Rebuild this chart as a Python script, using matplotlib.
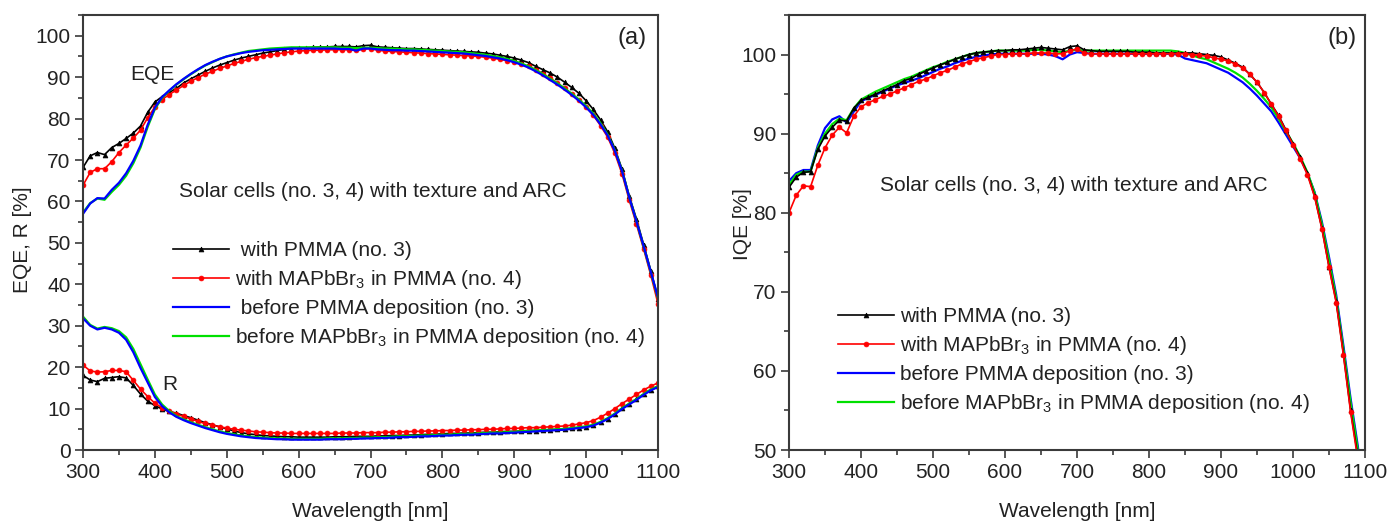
import numpy as np
import matplotlib
matplotlib.use('Agg')
import matplotlib.pyplot as plt
from matplotlib.ticker import MultipleLocator

plt.rcParams['font.family'] = ['Liberation Sans', 'DejaVu Sans']
plt.rcParams['mathtext.fontset'] = 'custom'
plt.rcParams['mathtext.rm'] = 'Liberation Sans'
plt.rcParams['mathtext.default'] = 'regular'

# longitud de onda, paso de 10 nm
wl = np.arange(300, 1101, 10)

# ---- (a) EQE ----
eqe_pmma = [68.2, 71.0, 71.8, 71.3, 73.0, 74.0, 75.2, 76.5, 78.2, 81.5,
            84.0, 85.3, 86.3, 87.3, 88.6, 89.6, 90.5, 91.4, 92.2, 92.9,
            93.5, 94.1, 94.6, 95.0, 95.4, 95.8, 96.1, 96.4, 96.7, 96.9,
            97.0, 97.1, 97.2, 97.3, 97.3, 97.4, 97.4, 97.4, 97.3, 97.6,
            97.7, 97.3, 97.2, 97.1, 97.0, 96.9, 96.9, 96.8, 96.7, 96.6,
            96.5, 96.4, 96.3, 96.2, 96.1, 96.0, 95.8, 95.6, 95.3, 95.0,
            94.6, 94.1, 93.5, 92.6, 91.8, 91.0, 90.0, 88.8, 87.5, 86.1,
            84.3, 82.2, 79.7, 76.8, 72.8, 67.8, 61.3, 55.8, 49.6, 43.3, 36.5]
eqe_mapb = [63.9, 67.0, 67.9, 67.9, 69.6, 71.8, 73.6, 75.3, 77.2, 80.2,
            82.8, 84.6, 85.8, 86.9, 88.0, 89.0, 89.9, 90.7, 91.4, 92.1,
            92.7, 93.3, 93.8, 94.3, 94.7, 95.0, 95.3, 95.6, 95.9, 96.1,
            96.3, 96.4, 96.5, 96.5, 96.6, 96.6, 96.6, 96.6, 96.5, 96.8,
            96.9, 96.5, 96.3, 96.2, 96.1, 96.0, 95.9, 95.8, 95.7, 95.6,
            95.5, 95.4, 95.3, 95.2, 95.1, 95.0, 94.8, 94.6, 94.3, 94.0,
            93.7, 93.2, 92.6, 91.8, 90.8, 89.7, 88.6, 87.3, 85.9, 84.5,
            82.8, 80.8, 78.3, 75.5, 71.6, 66.6, 60.3, 54.5, 48.5, 42.2, 35.3]
eqe_pre3 = [57.0, 59.5, 60.8, 60.7, 62.8, 64.5, 66.8, 69.8, 73.5, 78.5,
            82.6, 85.2, 86.8, 88.3, 89.6, 90.8, 91.9, 92.9, 93.7, 94.4,
            95.0, 95.4, 95.8, 96.1, 96.3, 96.5, 96.6, 96.7, 96.8, 96.9,
            96.9, 96.9, 96.9, 96.9, 96.9, 96.9, 96.8, 96.8, 96.4, 96.9,
            96.9, 96.7, 96.6, 96.5, 96.5, 96.4, 96.4, 96.3, 96.2, 96.1,
            96.0, 95.9, 95.8, 95.7, 95.5, 95.3, 95.1, 94.8, 94.5, 94.1,
            93.6, 93.0, 92.3, 91.4, 90.4, 89.3, 88.2, 87.0, 85.7, 84.3,
            82.7, 80.9, 78.6, 75.9, 72.2, 67.3, 61.0, 55.2, 49.2, 43.0, 36.8]
eqe_pre4 = [57.3, 59.6, 60.7, 60.4, 62.3, 64.0, 66.2, 69.2, 73.0, 78.0,
            82.3, 85.0, 86.7, 88.2, 89.5, 90.7, 91.8, 92.8, 93.6, 94.4,
            95.0, 95.5, 95.9, 96.3, 96.5, 96.7, 96.9, 97.0, 97.1, 97.2,
            97.2, 97.2, 97.2, 97.2, 97.2, 97.2, 97.1, 97.1, 97.0, 97.1,
            97.1, 97.0, 96.9, 96.9, 96.8, 96.7, 96.7, 96.6, 96.5, 96.4,
            96.3, 96.2, 96.1, 96.0, 95.8, 95.6, 95.4, 95.1, 94.8, 94.4,
            93.9, 93.3, 92.6, 91.7, 90.7, 89.6, 88.5, 87.3, 86.0, 84.6,
            83.0, 81.2, 78.9, 76.1, 72.3, 67.4, 61.0, 55.2, 49.1, 42.9, 36.6]

# ---- (a) R ----
r_pmma = [18.0, 16.9, 16.5, 17.3, 17.5, 17.7, 17.4, 15.6, 13.5, 11.8,
          10.7, 9.9, 9.3, 8.9, 8.3, 7.8, 7.2, 6.6, 6.1, 5.6,
          5.1, 4.6, 4.2, 3.9, 3.7, 3.5, 3.4, 3.3, 3.2, 3.2,
          3.1, 3.1, 3.1, 3.1, 3.1, 3.2, 3.2, 3.2, 3.3, 3.3,
          3.3, 3.4, 3.4, 3.5, 3.5, 3.6, 3.6, 3.7, 3.8, 3.8,
          3.9, 4.0, 4.0, 4.1, 4.1, 4.2, 4.3, 4.3, 4.4, 4.5,
          4.5, 4.6, 4.7, 4.7, 4.8, 4.9, 5.0, 5.1, 5.2, 5.4,
          5.6, 6.0, 6.7, 7.6, 8.7, 10.1, 11.2, 12.3, 13.5, 14.6, 15.4]
r_mapb = [20.5, 19.1, 18.8, 18.9, 19.2, 19.2, 18.9, 16.8, 14.7, 12.9,
          11.3, 10.2, 9.4, 8.7, 8.1, 7.5, 6.9, 6.4, 6.0, 5.6,
          5.3, 5.0, 4.8, 4.6, 4.4, 4.3, 4.2, 4.1, 4.1, 4.0,
          4.0, 4.0, 4.0, 4.0, 4.0, 4.0, 4.1, 4.1, 4.1, 4.2,
          4.2, 4.2, 4.3, 4.3, 4.4, 4.4, 4.5, 4.5, 4.6, 4.6,
          4.7, 4.7, 4.8, 4.8, 4.9, 4.9, 5.0, 5.0, 5.1, 5.2,
          5.2, 5.3, 5.4, 5.4, 5.5, 5.6, 5.7, 5.8, 6.0, 6.3,
          6.6, 7.1, 7.9, 8.9, 10.0, 11.2, 12.3, 13.4, 14.5, 15.4, 16.2]
r_pre3 = [31.8, 30.0, 29.1, 29.5, 29.1, 28.3, 26.6, 23.6, 19.8, 16.3,
          12.8, 10.6, 9.1, 8.0, 7.2, 6.5, 5.9, 5.3, 4.8, 4.3,
          3.9, 3.6, 3.3, 3.1, 2.9, 2.8, 2.7, 2.6, 2.6, 2.5,
          2.5, 2.5, 2.5, 2.5, 2.6, 2.6, 2.6, 2.7, 2.7, 2.8,
          2.8, 2.9, 2.9, 3.0, 3.1, 3.1, 3.2, 3.3, 3.3, 3.4,
          3.5, 3.5, 3.6, 3.7, 3.7, 3.8, 3.9, 4.0, 4.0, 4.1,
          4.2, 4.3, 4.4, 4.5, 4.6, 4.7, 4.8, 4.9, 5.1, 5.3,
          5.5, 5.9, 6.6, 7.5, 8.6, 9.9, 11.0, 12.1, 13.3, 14.4, 15.2]
r_pre4 = [32.2, 30.2, 29.3, 29.7, 29.4, 28.7, 27.2, 24.4, 20.7, 17.0,
          13.4, 11.0, 9.4, 8.2, 7.4, 6.7, 6.1, 5.5, 5.0, 4.5,
          4.1, 3.8, 3.5, 3.3, 3.1, 3.0, 2.9, 2.8, 2.8, 2.7,
          2.7, 2.7, 2.7, 2.7, 2.8, 2.8, 2.8, 2.9, 2.9, 3.0,
          3.0, 3.1, 3.1, 3.2, 3.3, 3.3, 3.4, 3.5, 3.5, 3.6,
          3.7, 3.7, 3.8, 3.9, 3.9, 4.0, 4.1, 4.2, 4.2, 4.3,
          4.4, 4.5, 4.6, 4.7, 4.8, 4.9, 5.0, 5.1, 5.3, 5.5,
          5.7, 6.1, 6.8, 7.7, 8.8, 10.1, 11.2, 12.3, 13.5, 14.6, 15.4]

# ---- (b) IQE ----
iqe_pmma = [83.2, 84.5, 85.1, 85.2, 88.0, 89.7, 90.8, 91.7, 91.6, 93.2,
            94.2, 94.6, 95.0, 95.4, 95.8, 96.2, 96.7, 97.0, 97.5, 97.9,
            98.3, 98.7, 99.0, 99.4, 99.7, 100.0, 100.2, 100.3, 100.4, 100.5,
            100.5, 100.6, 100.6, 100.7, 100.8, 100.9, 100.8, 100.7, 100.6, 101.0,
            101.1, 100.6, 100.5, 100.4, 100.4, 100.4, 100.4, 100.4, 100.3, 100.3,
            100.3, 100.2, 100.2, 100.2, 100.2, 100.2, 100.2, 100.1, 100.0, 99.9,
            99.7, 99.3, 98.9, 98.4, 97.5, 96.5, 95.2, 93.7, 92.3, 90.5,
            88.7, 87.0, 85.0, 82.1, 78.1, 73.2, 68.8, 62.2, 55.0, 49.2, 42.0]
iqe_mapb = [80.0, 82.2, 83.4, 83.3, 86.0, 88.2, 89.8, 90.8, 90.1, 92.2,
            93.4, 93.9, 94.3, 94.7, 95.0, 95.4, 95.8, 96.2, 96.6, 96.9,
            97.3, 97.7, 98.0, 98.4, 98.8, 99.1, 99.4, 99.6, 99.8, 100.0,
            100.0, 100.1, 100.1, 100.1, 100.2, 100.2, 100.2, 100.1, 100.1, 100.5,
            100.7, 100.2, 100.1, 100.1, 100.1, 100.1, 100.1, 100.1, 100.1, 100.1,
            100.1, 100.1, 100.1, 100.1, 100.1, 100.1, 100.0, 99.9, 99.8, 99.6,
            99.4, 99.2, 98.8, 98.3, 97.5, 96.5, 95.2, 93.7, 92.2, 90.4,
            88.6, 86.8, 84.8, 82.0, 78.0, 73.1, 68.6, 62.0, 54.8, 48.8, 41.5]
iqe_pre3 = [84.0, 85.0, 85.4, 85.4, 88.5, 90.7, 91.8, 92.2, 91.4, 92.8,
            94.1, 94.5, 94.9, 95.3, 95.7, 96.1, 96.4, 96.7, 97.0, 97.4,
            97.8, 98.2, 98.5, 98.9, 99.2, 99.5, 99.7, 99.9, 100.0, 100.1,
            100.1, 100.1, 100.1, 100.1, 100.1, 100.1, 100.0, 99.8, 99.4, 100.0,
            100.3, 100.2, 100.1, 100.1, 100.1, 100.1, 100.1, 100.1, 100.1, 100.1,
            100.1, 100.1, 100.1, 100.1, 100.0, 99.5, 99.3, 99.1, 98.9, 98.5,
            98.1, 97.7, 97.1, 96.5, 95.7, 94.8, 93.8, 92.8, 91.4, 89.9,
            88.4, 86.9, 85.0, 82.6, 78.9, 74.4, 69.6, 63.2, 56.5, 50.5, 43.5]
iqe_pre4 = [83.5, 84.8, 85.2, 85.2, 88.2, 90.0, 91.2, 91.9, 91.7, 93.2,
            94.3, 94.8, 95.3, 95.7, 96.1, 96.5, 96.9, 97.2, 97.6, 98.0,
            98.4, 98.7, 99.1, 99.4, 99.7, 100.0, 100.2, 100.3, 100.4, 100.5,
            100.5, 100.5, 100.5, 100.5, 100.6, 100.6, 100.5, 100.4, 100.3, 100.5,
            100.6, 100.5, 100.5, 100.5, 100.5, 100.5, 100.5, 100.5, 100.5, 100.5,
            100.5, 100.5, 100.5, 100.5, 100.4, 100.2, 99.9, 99.6, 99.4, 99.0,
            98.6, 98.2, 97.7, 97.1, 96.3, 95.4, 94.4, 93.3, 91.9, 90.3,
            88.8, 87.1, 85.1, 82.5, 78.6, 74.0, 69.2, 62.7, 56.0, 50.0, 43.2]

lab_pmma = ' with PMMA (no. 3)'
lab_mapb = r'with MAPbBr$_3$ in PMMA (no. 4)'
lab_pre3 = ' before PMMA deposition (no. 3)'
lab_pre4 = r'before MAPbBr$_3$ in PMMA deposition (no. 4)'

c_txt = '#222222'
c_ax = '#3a3a3a'

fig = plt.figure(figsize=(13.89, 5.21), dpi=100)
ax1 = fig.add_axes([83/1389, 71/521, 575/1389, 435/521])
ax2 = fig.add_axes([789/1389, 71/521, 576/1389, 435/521])

# estilos de las series
st_pmma = dict(color='black', lw=1.2, marker='^', ms=3.5, mew=0.5)
st_mapb = dict(color='#ff0000', lw=1.2, marker='o', ms=3.5, mew=0.5)
st_pre3 = dict(color='#0000ff', lw=1.6)
st_pre4 = dict(color='#00e000', lw=1.6)


def estilo(ax):
    for s in ax.spines.values():
        s.set_color(c_ax)
        s.set_linewidth(1.5)
    ax.tick_params(which='major', direction='out', length=6, width=1.2,
                   color=c_ax, labelsize=15, labelcolor=c_txt, pad=3)
    ax.tick_params(which='minor', direction='out', length=3.5, width=1.2, color=c_ax)
    ax.set_xlim(300, 1100)
    ax.xaxis.set_major_locator(MultipleLocator(100))
    ax.xaxis.set_minor_locator(MultipleLocator(50))
    ax.yaxis.set_major_locator(MultipleLocator(10))
    ax.yaxis.set_minor_locator(MultipleLocator(5))
    ax.set_xlabel('Wavelength [nm]', fontsize=15, color=c_txt, labelpad=15)


# panel (a)
estilo(ax1)
ax1.plot(wl, eqe_pmma, label=lab_pmma, **st_pmma)
ax1.plot(wl, eqe_mapb, label=lab_mapb, **st_mapb)
ax1.plot(wl, eqe_pre4, label=lab_pre4, **st_pre4)
ax1.plot(wl, eqe_pre3, label=lab_pre3, **st_pre3)
ax1.plot(wl, r_pmma, **st_pmma)
ax1.plot(wl, r_mapb, **st_mapb)
ax1.plot(wl, r_pre4, **st_pre4)
ax1.plot(wl, r_pre3, **st_pre3)
ax1.set_ylim(0, 105)
ax1.set_ylabel('EQE, R [%]', fontsize=15, color=c_txt)
ax1.yaxis.set_label_coords(-0.089, 0.483)
ax1.text(397, 90.6, 'EQE', fontsize=15, color=c_txt, ha='center', va='center')
ax1.text(421, 15.7, 'R', fontsize=15, color=c_txt, ha='center', va='center')
ax1.text(433, 62.4, 'Solar cells (no. 3, 4) with texture and ARC', fontsize=15,
         color=c_txt, va='center')
ax1.text(0.955, 0.947, '(a)', transform=ax1.transAxes, fontsize=17, color=c_txt,
         ha='center', va='center')
h, l = ax1.get_legend_handles_labels()
orden = [0, 1, 3, 2]
ax1.legend([h[i] for i in orden], [l[i] for i in orden], loc='upper left',
           bbox_to_anchor=(0.1565, 0.480), frameon=False, fontsize=15,
           handlelength=2.7, handletextpad=0.3, borderpad=0, borderaxespad=0,
           labelspacing=0.38, numpoints=1, labelcolor=c_txt)

# panel (b)
estilo(ax2)
ax2.plot(wl, iqe_pre3, label=lab_pre3, **st_pre3)
ax2.plot(wl, iqe_pre4, label=lab_pre4, **st_pre4)
ax2.plot(wl, iqe_pmma, label=lab_pmma, **st_pmma)
ax2.plot(wl, iqe_mapb, label=lab_mapb, **st_mapb)
ax2.set_ylim(50, 105)
ax2.set_ylabel('IQE [%]', fontsize=15, color=c_txt)
ax2.yaxis.set_label_coords(-0.064, 0.52)
ax2.text(426, 83.5, 'Solar cells (no. 3, 4) with texture and ARC', fontsize=15,
         color=c_txt, va='center')
ax2.text(0.96, 0.947, '(b)', transform=ax2.transAxes, fontsize=17, color=c_txt,
         ha='center', va='center')
h, l = ax2.get_legend_handles_labels()
orden = [2, 3, 0, 1]
ax2.legend([h[i] for i in orden], [l[i].strip() for i in orden], loc='upper left',
           bbox_to_anchor=(0.085, 0.328), frameon=False, fontsize=15,
           handlelength=2.7, handletextpad=0.3, borderpad=0, borderaxespad=0,
           labelspacing=0.38, numpoints=1, labelcolor=c_txt)

fig.savefig('out.png', dpi=100)
